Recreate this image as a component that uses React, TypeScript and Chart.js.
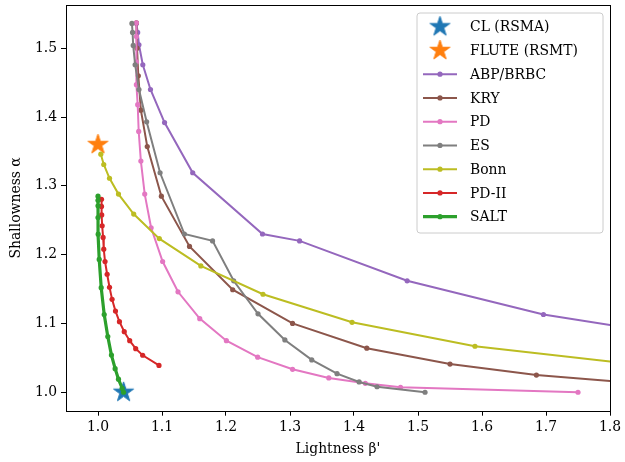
import React, { useEffect, useRef } from "react";
import { Chart, registerables } from "chart.js";

Chart.register(...registerables);

// ---------- data ----------
const clX = [1.04];
const clY = [1.0];
const fluteX = [1.0];
const fluteY = [1.36];

const abpX = [1.060, 1.062, 1.064, 1.070, 1.082, 1.104, 1.148, 1.257, 1.315, 1.483, 1.696, 1.95];
const abpY = [1.536, 1.523, 1.505, 1.476, 1.440, 1.392, 1.319, 1.230, 1.220, 1.162, 1.113, 1.076];

const kryX = [1.060, 1.061, 1.063, 1.067, 1.077, 1.099, 1.143, 1.2105, 1.304, 1.420, 1.550, 1.685, 1.845];
const kryY = [1.537, 1.500, 1.460, 1.410, 1.357, 1.285, 1.212, 1.149, 1.100, 1.064, 1.041, 1.025, 1.013];

const pdX = [1.060, 1.060, 1.060, 1.060, 1.062, 1.0636, 1.067, 1.073, 1.083, 1.101, 1.125, 1.159, 1.2006, 1.2495, 1.304, 1.3606, 1.4177, 1.4727, 1.75];
const pdY = [1.537, 1.517, 1.480, 1.447, 1.418, 1.379, 1.336, 1.288, 1.239, 1.190, 1.146, 1.107, 1.075, 1.051, 1.0334, 1.0208, 1.013, 1.0073, 1.0];

const esX = [1.053, 1.054, 1.055, 1.058, 1.064, 1.076, 1.097, 1.135, 1.179, 1.212, 1.250, 1.292, 1.334, 1.3735, 1.408, 1.436, 1.511];
const esY = [1.536, 1.523, 1.504, 1.476, 1.440, 1.393, 1.319, 1.230, 1.220, 1.162, 1.114, 1.076, 1.047, 1.027, 1.015, 1.008, 1.0];

const bonnX = [1.0044, 1.009, 1.018, 1.032, 1.0558, 1.0958, 1.1607, 1.2578, 1.397, 1.589, 1.9];
const bonnY = [1.346, 1.331, 1.311, 1.288, 1.259, 1.2233, 1.1836, 1.1424, 1.1017, 1.0669, 1.034];

const pd2X = [1.0055, 1.0055, 1.0058, 1.0065, 1.008, 1.009, 1.011, 1.0143, 1.018, 1.022, 1.0273, 1.0335, 1.041, 1.0495, 1.0589, 1.0698, 1.0953];
const pd2Y = [1.2805, 1.270, 1.2577, 1.242, 1.225, 1.208, 1.190, 1.1715, 1.1526, 1.135, 1.118, 1.1026, 1.088, 1.075, 1.0634, 1.0538, 1.039];

const saltX = [1.0, 1.0, 1.0, 1.0, 1.0003, 1.0019, 1.005, 1.0097, 1.0153, 1.021, 1.0268, 1.032, 1.0377, 1.040];
const saltY = [1.285, 1.279, 1.271, 1.254, 1.2297, 1.193, 1.152, 1.113, 1.081, 1.054, 1.0343, 1.019, 1.0058, 1.0];

const xTicks = [1.0, 1.1, 1.2, 1.3, 1.4, 1.5, 1.6, 1.7, 1.8];
const yTicks = [1.0, 1.1, 1.2, 1.3, 1.4, 1.5];

const FONT = "'DejaVu Serif', serif";

function pts(xs: number[], ys: number[]) {
  return xs.map((x, i) => ({ x, y: ys[i] }));
}

function makeStar(color: string, r: number): HTMLCanvasElement {
  const size = Math.ceil(r * 2 + 2);
  const c = document.createElement("canvas");
  c.width = size;
  c.height = size;
  const ctx = c.getContext("2d")!;
  const cx = size / 2;
  const cy = size / 2;
  const inner = r * 0.381966;
  ctx.beginPath();
  for (let i = 0; i < 10; i++) {
    const rad = i % 2 === 0 ? r : inner;
    const a = -Math.PI / 2 + (i * Math.PI) / 5;
    const px = cx + rad * Math.cos(a);
    const py = cy + rad * Math.sin(a);
    if (i === 0) ctx.moveTo(px, py);
    else ctx.lineTo(px, py);
  }
  ctx.closePath();
  ctx.fillStyle = color;
  ctx.fill();
  ctx.lineWidth = 1;
  ctx.strokeStyle = color;
  ctx.stroke();
  return c;
}

export default function App() {
  const ref = useRef<HTMLCanvasElement | null>(null);

  useEffect(() => {
    if (!ref.current) return;
    const blueStar = makeStar("#1f77b4", 10.5);
    const orangeStar = makeStar("#ff7f0e", 10.5);

    const lineDs = (label: string, xs: number[], ys: number[], color: string, width: number, order: number) => ({
      label,
      data: pts(xs, ys),
      borderColor: color,
      backgroundColor: color,
      borderWidth: width,
      pointRadius: 2.6,
      pointBorderWidth: 0,
      pointBackgroundColor: color,
      showLine: true,
      order,
    });

    const datasets: any[] = [
      {
        label: "CL (RSMA)",
        data: pts(clX, clY),
        pointStyle: blueStar,
        showLine: false,
        borderColor: "#1f77b4",
        backgroundColor: "#1f77b4",
        order: 9,
        _star: blueStar,
      },
      {
        label: "FLUTE (RSMT)",
        data: pts(fluteX, fluteY),
        pointStyle: orangeStar,
        showLine: false,
        borderColor: "#ff7f0e",
        backgroundColor: "#ff7f0e",
        order: 8,
        _star: orangeStar,
      },
      lineDs("ABP/BRBC", abpX, abpY, "#9467bd", 2, 7),
      lineDs("KRY", kryX, kryY, "#8c564b", 2, 6),
      lineDs("PD", pdX, pdY, "#e377c2", 2, 5),
      lineDs("ES", esX, esY, "#7f7f7f", 2, 4),
      lineDs("Bonn", bonnX, bonnY, "#bcbd22", 2, 3),
      lineDs("PD-II", pd2X, pd2Y, "#d62728", 2, 2),
      lineDs("SALT", saltX, saltY, "#2ca02c", 3.2, 1),
    ];

    const framePlugin = {
      id: "frameAndLegend",
      afterDraw(chart: any) {
        const ctx = chart.ctx as CanvasRenderingContext2D;
        const a = chart.chartArea;
        ctx.save();
        // frame
        ctx.strokeStyle = "#000";
        ctx.lineWidth = 1;
        ctx.strokeRect(Math.round(a.left) + 0.5, Math.round(a.top) + 0.5, Math.round(a.right - a.left), Math.round(a.bottom - a.top));

        // legend
        const lx = 417, ly = 13, lw = 186, lh = 220, r = 3;
        ctx.beginPath();
        ctx.moveTo(lx + r, ly);
        ctx.lineTo(lx + lw - r, ly);
        ctx.quadraticCurveTo(lx + lw, ly, lx + lw, ly + r);
        ctx.lineTo(lx + lw, ly + lh - r);
        ctx.quadraticCurveTo(lx + lw, ly + lh, lx + lw - r, ly + lh);
        ctx.lineTo(lx + r, ly + lh);
        ctx.quadraticCurveTo(lx, ly + lh, lx, ly + lh - r);
        ctx.lineTo(lx, ly + r);
        ctx.quadraticCurveTo(lx, ly, lx + r, ly);
        ctx.closePath();
        ctx.fillStyle = "rgba(255,255,255,0.8)";
        ctx.fill();
        ctx.strokeStyle = "#cccccc";
        ctx.lineWidth = 1;
        ctx.stroke();

        const ds = chart.data.datasets;
        const rowStart = 26.7;
        const rowStep = 23.75;
        ctx.font = `13.9px ${FONT}`;
        ctx.textBaseline = "middle";
        ctx.textAlign = "left";
        for (let i = 0; i < ds.length; i++) {
          const d = ds[i];
          const y = rowStart + i * rowStep;
          if (d._star) {
            const img = d._star as HTMLCanvasElement;
            ctx.drawImage(img, 440 - img.width / 2, y - img.height / 2);
          } else {
            ctx.beginPath();
            ctx.moveTo(423, y);
            ctx.lineTo(457, y);
            ctx.strokeStyle = d.borderColor;
            ctx.lineWidth = d.borderWidth;
            ctx.stroke();
            ctx.beginPath();
            ctx.arc(440, y, 2.6, 0, Math.PI * 2);
            ctx.fillStyle = d.borderColor;
            ctx.fill();
          }
          ctx.fillStyle = "#000";
          ctx.fillText(d.label, 470, y + 1);
        }
        ctx.restore();
      },
    };

    const chart = new Chart(ref.current, {
      type: "scatter",
      data: { datasets },
      options: {
        animation: false,
        responsive: false,
        maintainAspectRatio: false,
        layout: { padding: { left: 0, top: 5, right: 15, bottom: 0 } },
        plugins: {
          legend: { display: false },
          tooltip: { enabled: false },
        },
        scales: {
          x: {
            type: "linear",
            min: 0.95,
            max: 1.8,
            afterBuildTicks: (s: any) => {
              s.ticks = xTicks.map((v) => ({ value: v }));
            },
            afterFit: (s: any) => {
              s.height = 51.3;
              s.paddingLeft = 0;
              s.paddingRight = 0;
            },
            border: { display: false },
            grid: { drawOnChartArea: false, drawTicks: true, tickLength: 5, color: "#000", lineWidth: 1 },
            ticks: {
              color: "#000",
              padding: 3,
              font: { family: FONT, size: 13.9 },
              callback: (v: any) => Number(v).toFixed(1),
              maxRotation: 0,
              autoSkip: false,
            },
            title: {
              display: true,
              text: "Lightness β'",
              color: "#000",
              font: { family: FONT, size: 13.9 },
              padding: { top: 0, bottom: 4.6 },
            },
          },
          y: {
            type: "linear",
            min: 0.9732,
            max: 1.5628,
            afterBuildTicks: (s: any) => {
              s.ticks = yTicks.map((v) => ({ value: v }));
            },
            afterFit: (s: any) => {
              s.width = 66;
              s.paddingTop = 0;
              s.paddingBottom = 0;
            },
            border: { display: false },
            grid: { drawOnChartArea: false, drawTicks: true, tickLength: 5, color: "#000", lineWidth: 1 },
            ticks: {
              color: "#000",
              padding: 4,
              font: { family: FONT, size: 13.9 },
              callback: (v: any) => Number(v).toFixed(1),
              autoSkip: false,
            },
            title: {
              display: true,
              text: "Shallowness α",
              color: "#000",
              font: { family: FONT, size: 13.9 },
              padding: { top: 8.3, bottom: 0 },
            },
          },
        },
      } as any,
      plugins: [framePlugin],
    });

    return () => chart.destroy();
  }, []);

  return (
    <div style={{ position: "absolute", left: 0, top: 0, width: 625, height: 462, background: "#fff" }}>
      <canvas ref={ref} width={625} height={462} style={{ display: "block" }} />
    </div>
  );
}
